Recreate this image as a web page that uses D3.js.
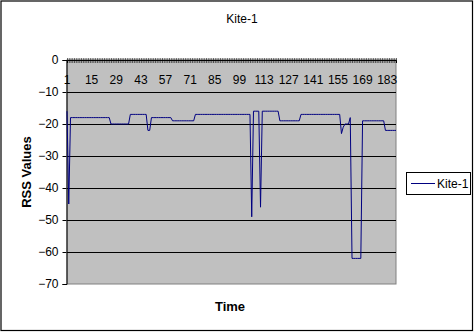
<!DOCTYPE html>
<html>
<head>
<meta charset="utf-8">
<script src="https://cdn.jsdelivr.net/npm/d3@7"></script>
<style>
  body { margin: 0; background: #fff; }
  text { font-family: "Liberation Sans", Arial, sans-serif; }
</style>
</head>
<body>
<svg id="kite"></svg>
<script>
// chart size
const width = 474, height = 332;
const margin = { top: 60, right: 78, bottom: 48, left: 67 };

// series: RSS readings for Kite-1
const seriesName = "Kite-1";
const rss = [
  -16, -45, -18, -18, -18, -18, -18, -18, -18, -18,
  -18, -18, -18, -18, -18, -18, -18, -18, -18, -18,
  -18, -18, -18, -18, -18, -20, -20, -20, -20, -20,
  -20, -20, -20, -20, -20, -20, -17, -17, -17, -17,
  -17, -17, -17, -17, -17, -17, -22, -22, -18, -18,
  -18, -18, -18, -18, -18, -18, -18, -18, -18, -18,
  -19, -19, -19, -19, -19, -19, -19, -19, -19, -19,
  -19, -19, -19, -17, -17, -17, -17, -17, -17, -17,
  -17, -17, -17, -17, -17, -17, -17, -17, -17, -17,
  -17, -17, -17, -17, -17, -17, -17, -17, -17, -17,
  -17, -17, -17, -17, -17, -49, -16, -16, -16, -16,
  -46, -16, -16, -16, -16, -16, -16, -16, -16, -16,
  -16, -19, -19, -19, -19, -19, -19, -19, -19, -19,
  -19, -19, -19, -17, -17, -17, -17, -17, -17, -17,
  -17, -17, -17, -17, -17, -17, -17, -17, -17, -17,
  -17, -17, -17, -17, -17, -17, -23, -21, -20, -20,
  -20, -18, -62, -62, -62, -62, -62, -62, -19, -19,
  -19, -19, -19, -19, -19, -19, -19, -19, -19, -19,
  -19, -22, -22, -22, -22, -22, -22, -22
];
const times = rss.map((d, i) => i + 1);

// axis ticks
const yTicks = [0, -10, -20, -30, -40, -50, -60, -70];
const xTickLabels = [1, 15, 29, 43, 57, 71, 85, 99, 113, 127, 141, 155, 169, 183];

const svg = d3.select("#kite")
  .attr("width", width)
  .attr("height", height);

// outer chart border
svg.append("rect")
  .attr("x", 1).attr("y", 1)
  .attr("width", width - 2.5).attr("height", height - 2.5)
  .attr("fill", "#fff")
  .attr("stroke", "#000")
  .attr("stroke-width", 1.2);

const x = d3.scalePoint()
  .domain(times)
  .range([margin.left, width - margin.right]);

const y = d3.scaleLinear()
  .domain([-70, 0])
  .range([height - margin.bottom, margin.top]);

// plot area
svg.append("rect")
  .attr("x", margin.left)
  .attr("y", margin.top)
  .attr("width", width - margin.right - margin.left)
  .attr("height", y(-70) - y(0))
  .attr("fill", "#c0c0c0")
  .attr("stroke", "#808080")
  .attr("stroke-width", 1);

// gridlines
svg.append("g")
  .selectAll("line")
  .data(yTicks.filter(d => d !== 0 && d !== -70))
  .join("line")
  .attr("x1", margin.left)
  .attr("x2", width - margin.right)
  .attr("y1", d => Math.round(y(d)) + 0.5)
  .attr("y2", d => Math.round(y(d)) + 0.5)
  .attr("stroke", "#000")
  .attr("stroke-width", 1);

// y axis
const yAxis = g => g
  .attr("transform", `translate(${margin.left - 0.5},0)`)
  .call(d3.axisLeft(y).tickValues(yTicks).tickSize(4).tickPadding(4))
  .call(g => g.selectAll("text")
    .attr("font-size", 12)
    .attr("font-family", "Liberation Sans, Arial, sans-serif")
    .attr("fill", "#000"))
  .call(g => g.selectAll("line, path").attr("stroke", "#000"));

svg.append("g").call(yAxis);

// x axis sits on y = 0 (top); minor tick at every category
const xAxis = g => g
  .attr("transform", `translate(0,${margin.top})`)
  .call(d3.axisBottom(x).tickValues(times).tickSize(3).tickFormat(""))
  .call(g => g.selectAll(".tick line")
    .attr("y1", -2)
    .attr("stroke", "#000")
    .attr("stroke-width", 0.6))
  .call(g => g.select(".domain").attr("stroke", "#000"));

svg.append("g").call(xAxis);

svg.append("g")
  .selectAll("text")
  .data(xTickLabels)
  .join("text")
  .attr("x", d => x(d))
  .attr("y", margin.top + 24)
  .attr("text-anchor", "middle")
  .attr("font-size", 12)
  .text(d => d);

// the line
const line = d3.line()
  .x((d, i) => x(times[i]))
  .y(d => y(d));

svg.append("path")
  .datum(rss)
  .attr("fill", "none")
  .attr("stroke", "#000080")
  .attr("stroke-width", 1)
  .attr("d", line);

// titles
svg.append("text")
  .attr("x", 242)
  .attr("y", 22.5)
  .attr("text-anchor", "middle")
  .attr("font-size", 12)
  .text("Kite-1");

svg.append("text")
  .attr("x", 230)
  .attr("y", 311)
  .attr("text-anchor", "middle")
  .attr("font-size", 13)
  .attr("font-weight", "bold")
  .text("Time");

svg.append("text")
  .attr("transform", "translate(31,172) rotate(-90)")
  .attr("text-anchor", "middle")
  .attr("font-size", 13)
  .attr("font-weight", "bold")
  .text("RSS Values");

// legend
const legend = svg.append("g").attr("transform", "translate(406,172)");
legend.append("rect")
  .attr("x", 0.5).attr("y", 0.5)
  .attr("width", 64).attr("height", 22)
  .attr("fill", "#fff")
  .attr("stroke", "#000");
legend.append("line")
  .attr("x1", 5).attr("x2", 29)
  .attr("y1", 11.5).attr("y2", 11.5)
  .attr("stroke", "#000080");
legend.append("text")
  .attr("x", 31)
  .attr("y", 15.5)
  .attr("font-size", 12)
  .text(seriesName);
</script>
</body>
</html>
